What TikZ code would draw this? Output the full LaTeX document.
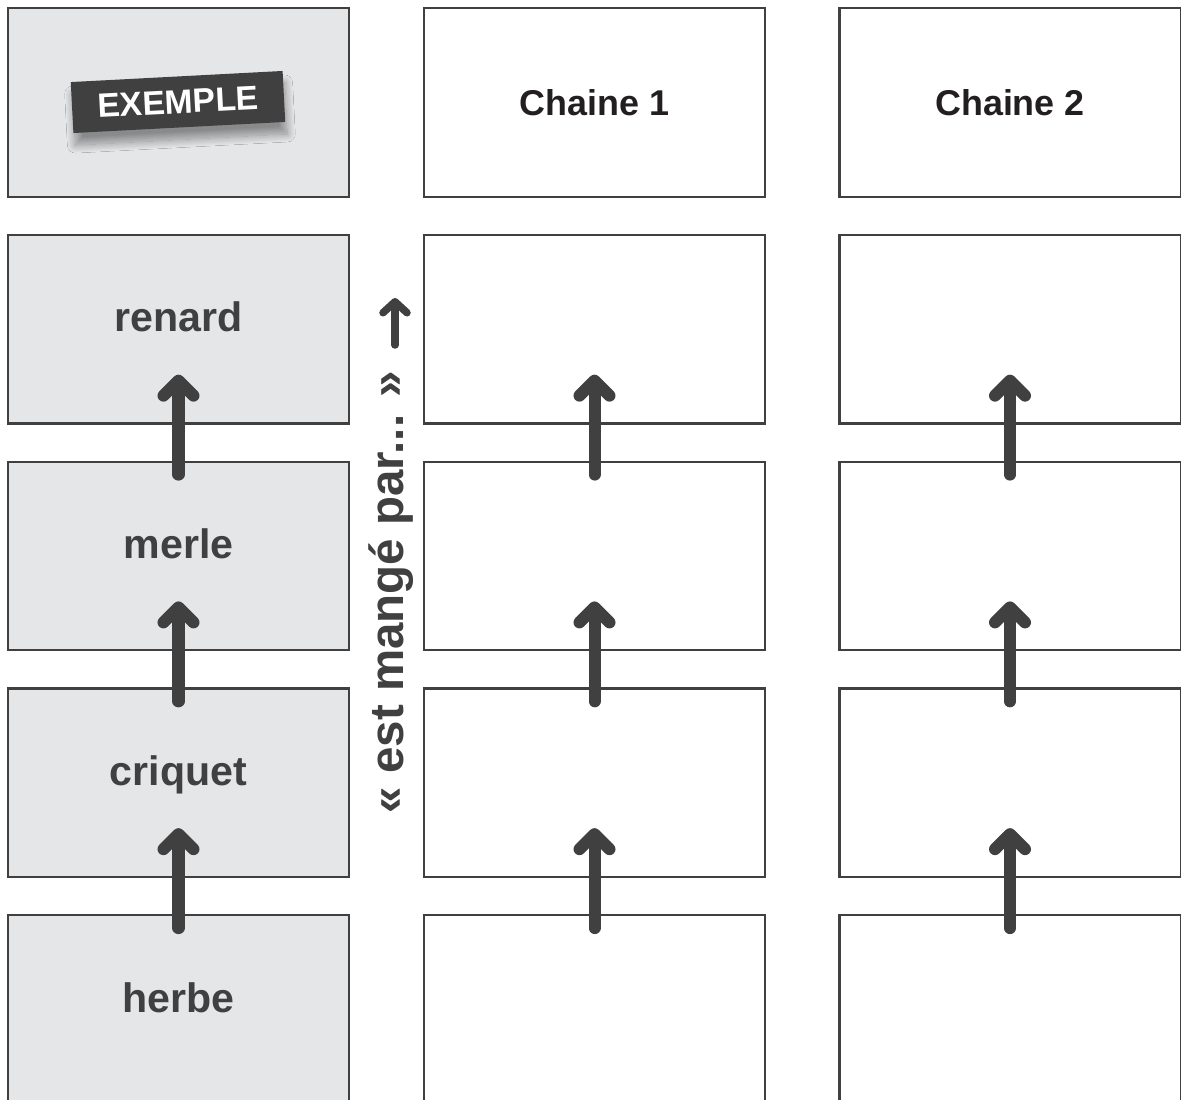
\documentclass[tikz,border=0pt]{standalone}
\usepackage{fontspec}
\setmainfont{Liberation Sans}
\usetikzlibrary{arrows.meta,calc,shadows.blur}
\definecolor{inkgray}{HTML}{404040}
\definecolor{cardgray}{HTML}{E5E6E8}
\definecolor{chaintext}{HTML}{231F20}

\begin{document}
\begin{tikzpicture}[
    x=0.01cm,
    y=-0.01cm,
    card/.style={draw=inkgray, line width=0.022cm, minimum width=3.41cm, minimum height=1.885cm, inner sep=0pt},
    excard/.style={card, fill=cardgray},
    animal/.style={anchor=base, text=inkgray, font=\fontsize{11.7pt}{12pt}\selectfont\bfseries},
    chainlbl/.style={anchor=base, text=chaintext, font=\fontsize{10.2pt}{11pt}\selectfont\bfseries},
    tag/.style={fill=inkgray, text=white, rotate=3, minimum width=2.12cm, minimum height=0.51cm,
      font=\fontsize{9.6pt}{10pt}\selectfont\bfseries,
      blur shadow={shadow xshift=0.02cm, shadow yshift=-0.12cm, shadow blur radius=0.08cm,
        shadow blur steps=20, shadow opacity=40}},
    eats/.style={draw=inkgray, line width=0.12cm, line cap=round, -{Straight Barb[round, length=0.15cm, width=0.30cm]}},
    eatslbl/.style={rotate=90, anchor=base, text=inkgray, font=\fontsize{13.5pt}{14pt}\selectfont\bfseries}
  ]
    \useasboundingbox (0,0) rectangle (1181,1100);

    % three columns of cards, five rows
    \foreach \r in {0,...,4} {
      \pgfmathsetmacro\yy{102.5+226.75*\r}
      \node[excard] (b-1-\r) at (178.5,\yy) {};
      \node[card] (b-2-\r) at (594.5,\yy) {};
      \node[card] (b-3-\r) at (1010,\yy) {};
    }

    \node[tag] (exlabel) at (178,102) {EXEMPLE};
    \node[chainlbl] (chain1) at ($(b-2-0.north)+(0,108)$) {Chaine 1};
    \node[chainlbl] (chain2) at ($(b-3-0.north)+(0,108)$) {Chaine 2};

    \foreach \r/\name in {1/renard, 2/merle, 3/criquet, 4/herbe}
      \node[animal] (name-\r) at ($(b-1-\r.north)+(0,98)$) {\name};

    \foreach \c in {1,2,3} {
      \foreach \r in {2,3,4} {
        \pgfmathtruncatemacro\prev{\r-1}
        \draw[eats] ($(b-\c-\r.north)+(0,14)$) -- ($(b-\c-\prev.south)+(0,-50)$);
      }
    }

    \node[eatslbl] (eaten) at (403,592) {« est mangé par... »};
    \coordinate (up-tail) at (395,345);
    \coordinate (up-tip) at (395,298);
    \draw[eats, line width=0.075cm, -{Straight Barb[round, length=0.11cm, width=0.24cm]}] (up-tail) -- (up-tip);
  \end{tikzpicture}
\end{document}
